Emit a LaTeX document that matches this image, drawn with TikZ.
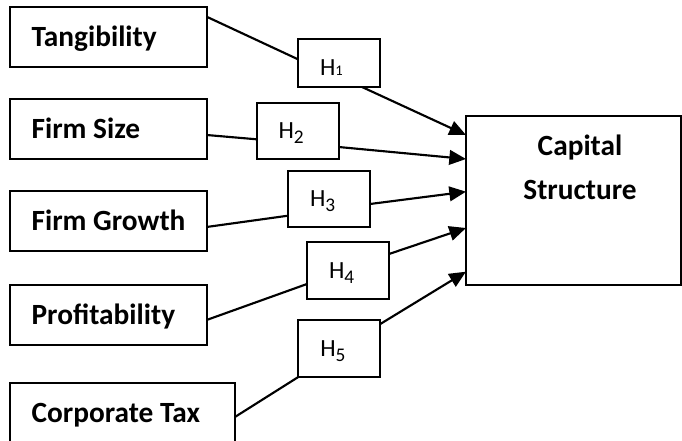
\documentclass[tikz,border=0pt]{standalone}
\usepackage{fontspec}
\setmainfont{Carlito}
\usetikzlibrary{arrows.meta,calc}
\newcommand{\hsub}[1]{\raisebox{-3.5pt}{\fontsize{14.5pt}{14.5pt}\selectfont #1}}
\newcommand{\hsubone}[1]{{\fontsize{11pt}{11pt}\selectfont #1}}
\newcommand{\vb}[2][114.75pt]{\makebox[#1][l]{#2}}
\tikzset{
  varbox/.style={draw, line width=1.6pt, outer sep=0pt, anchor=north west,
    inner xsep=16.5pt, inner ysep=0pt,
    minimum height=45pt, text height=14.1pt, text depth=0pt,
    font=\fontsize{22pt}{25pt}\selectfont\bfseries},
  hbox/.style={draw, line width=1.6pt, outer sep=0pt, anchor=north west,
    inner xsep=16.5pt, inner ysep=0pt, align=left, text width=28.5pt,
    minimum height=42pt, text height=11.8pt, text depth=0pt,
    font=\fontsize{18.5pt}{20pt}\selectfont},
  outbox/.style={draw, line width=1.6pt, outer sep=0pt, anchor=north west,
    minimum width=161.25pt, minimum height=126.75pt, inner sep=0pt},
  link/.style={line width=1.6pt},
  arrowlink/.style={line width=1.6pt, -{Triangle[length=12.5pt,width=11pt]}},
}
\begin{document}
\begin{tikzpicture}[x=0.75pt,y=-0.75pt]
\useasboundingbox (0,0) rectangle (682,441);
\clip (0,0) rectangle (682,441);
% predictor boxes
\node[varbox] (tang) at (9.6,7) {\vb{Tangibility}};
\node[varbox] (fsize) at (9.6,99) {\vb{Firm Size}};
\node[varbox] (fgrowth) at (9.6,191) {\vb{Firm Growth}};
\node[varbox] (prof) at (9.6,285) {\vb{Profitability}};
\node[varbox] (ctax) at (9.6,383) {\vb[136pt]{Corporate Tax}};
% hypothesis boxes
\node[hbox, minimum height=36pt, text height=19.3pt] (h1) at (298,39) {H\hsubone{1}};
\node[hbox] (h2) at (256.6,103) {H\hsub{2}};
\node[hbox] (h3) at (288,171) {H\hsub{3}};
\node[hbox, minimum height=42.75pt] (h4) at (307,242) {H\hsub{4}};
\node[hbox, minimum height=42.75pt] (h5) at (298.3,320) {H\hsub{5}};
% outcome
\node[outbox] (cs) at (466,116) {};
\node[anchor=north, inner sep=0pt, align=center,
  font=\fontsize{22pt}{32.5pt}\selectfont\bfseries] (cstext) at (580,135) {Capital\\Structure};
% connectors
\draw[link] ($(tang.north east)+(0,9.7)$) -- ($(h1.north west)+(0,20.3)$);
\draw[arrowlink] ($(h1.south west)+(64,0)$) -- ($(cs.north west)+(0,19)$);
\draw[link] ($(fsize.north east)+(0,36)$) -- ($(h2.north west)+(0,36.3)$);
\draw[arrowlink] ($(h2.north east)+(0,44)$) -- ($(cs.north west)+(0,43)$);
\draw[link] ($(fgrowth.north east)+(0,36)$) -- ($(h3.north west)+(0,44.7)$);
\draw[arrowlink] ($(h3.north east)+(0,33)$) -- ($(cs.north west)+(0,75.7)$);
\draw[link] ($(prof.north east)+(0,35)$) -- ($(h4.north west)+(0,42)$);
\draw[arrowlink] ($(h4.north east)+(0,12)$) -- ($(cs.north west)+(0,112)$);
\draw[link] ($(ctax.north east)+(0,34)$) -- (h5.south west);
\draw[arrowlink] ($(h5.north east)+(0,4)$) -- ($(cs.north west)+(0,155.7)$);
\end{tikzpicture}
\end{document}
